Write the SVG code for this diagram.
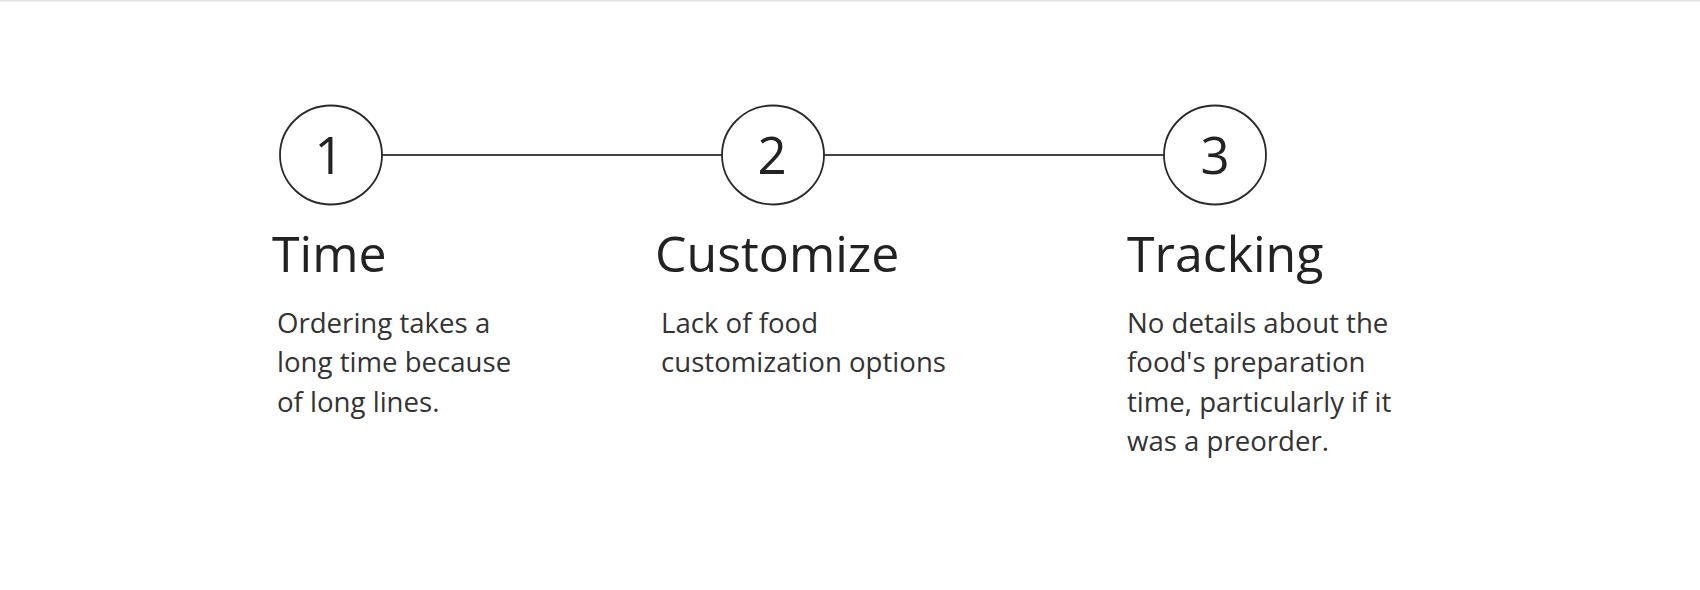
<svg xmlns="http://www.w3.org/2000/svg" width="1700" height="590" viewBox="0 0 1700 590">
<style>
.node-circle{fill:#fff;stroke:#2a2a2a;stroke-width:1.8}
.num{font-family:"Open Sans",sans-serif;font-size:51px;fill:#222;text-anchor:middle}
.title{font-family:"Open Sans",sans-serif;font-size:50px;fill:#222}
.body{font-family:"Open Sans",sans-serif;font-size:27.6px;fill:#333}
.conn{stroke:#444;stroke-width:2;fill:none}
</style>
<rect x="0" y="0" width="1700" height="590" fill="#fff"/>
<line x1="0" y1="0.5" x2="1700" y2="0.5" stroke="#e2e2e2" stroke-width="2"/>
<g id="connectors">
<line class="conn" x1="382" y1="155" x2="722" y2="155"/>
<line class="conn" x1="824" y1="155" x2="1164" y2="155"/>
</g>
<g id="step1">
<ellipse class="node-circle" cx="331" cy="155" rx="51" ry="49.5"/>
<text class="num" x="329" y="174">1</text>
<text class="title" x="272" y="272">Time</text>
<text class="body" x="277" y="333">Ordering takes a</text>
<text class="body" x="277" y="372">long time because</text>
<text class="body" x="277" y="412">of long lines.</text>
</g>
<g id="step2">
<ellipse class="node-circle" cx="773" cy="155" rx="51" ry="49.5"/>
<text class="num" x="772" y="174">2</text>
<text class="title" x="655" y="272">Customize</text>
<text class="body" x="661" y="333">Lack of food</text>
<text class="body" x="661" y="372">customization options</text>
</g>
<g id="step3">
<ellipse class="node-circle" cx="1215" cy="155" rx="51" ry="49.5"/>
<text class="num" x="1215" y="174">3</text>
<text class="title" x="1127" y="272">Tracking</text>
<text class="body" x="1127" y="333">No details about the</text>
<text class="body" x="1127" y="372">food's preparation</text>
<text class="body" x="1127" y="412">time, particularly if it</text>
<text class="body" x="1127" y="451">was a preorder.</text>
</g>
</svg>
